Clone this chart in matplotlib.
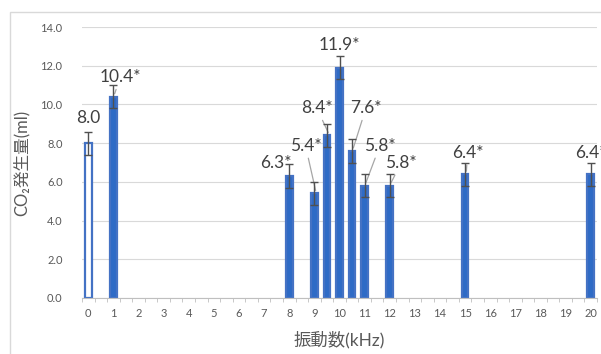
import matplotlib.pyplot as plt
from matplotlib.patches import Rectangle

plt.rcParams['font.family'] = ['Lato', 'Noto Sans CJK JP', 'DejaVu Sans']

# data
freq = [0, 1, 8, 9, 9.5, 10, 10.5, 11, 12, 15, 20]
co2 = [8.0, 10.4, 6.3, 5.4, 8.4, 11.9, 7.6, 5.8, 5.8, 6.4, 6.4]
err = [0.6, 0.6, 0.6, 0.6, 0.6, 0.6, 0.6, 0.6, 0.6, 0.6, 0.6]
labels = ['8.0', '10.4*', '6.3*', '5.4*', '8.4*', '11.9*', '7.6*', '5.8*', '5.8*', '6.4*', '6.4*']

# where the data labels sit (moved by hand like in the original)
lab_x = [0, 1.27, 7.45, 8.65, 9.1, 10.0, 11.05, 11.6, 12.45, 15.1, 20.0]
lab_y = [9.3, 11.4, 6.97, 7.85, 9.8, 13.07, 9.8, 7.85, 6.97, 7.5, 7.5]
leader = [False, True, False, True, True, False, True, True, True, True, False]

fig = plt.figure(figsize=(6.01, 3.54), dpi=100)
ax = fig.add_axes([0.1364, 0.1582, 0.857, 0.7655])

# outer chart frame
fig.patches.append(Rectangle((10 / 601, -0.1), 1.2, 1 - 12 / 354 + 0.1, transform=fig.transFigure,
                             fill=False, edgecolor='#D9D9D9', lw=1))

face = ['white'] + ['#2E6BC6'] * (len(freq) - 1)
ax.bar(freq, co2, width=0.26, color=face, edgecolor='#4472C4', linewidth=1.6, zorder=3)
ax.errorbar(freq, co2, yerr=err, fmt='none', ecolor='#505050', elinewidth=1, capsize=3,
            capthick=1, zorder=4)

for i in range(len(freq)):
    if leader[i]:
        ax.annotate(labels[i], xy=(freq[i] + 0.05, co2[i] + 0.15), xytext=(lab_x[i], lab_y[i]),
                    ha='center', va='center', fontsize=12.5, color='#404040',
                    arrowprops=dict(arrowstyle='-', color='#A6A6A6', lw=0.9, shrinkA=1, shrinkB=0),
                    annotation_clip=False)
    else:
        ax.text(lab_x[i], lab_y[i], labels[i], ha='center', va='center', fontsize=12.5,
                color='#404040')

ax.set_xlim(-0.25, 20.25)
ax.set_ylim(0, 14)
ax.set_yticks(range(0, 15, 2))
ax.set_yticklabels(['%.1f' % v for v in range(0, 15, 2)])
ax.set_xticks(range(0, 21))
ax.set_xticks([k * 0.5 - 0.25 for k in range(42)], minor=True)
ax.tick_params(axis='x', which='major', length=0, pad=7, labelsize=8, labelcolor='#595959')
ax.tick_params(axis='x', which='minor', length=3, color='#BFBFBF', direction='out')
ax.tick_params(axis='y', length=0, pad=14, labelsize=8, labelcolor='#595959')

ax.grid(axis='y', color='#D9D9D9', lw=0.8, zorder=0)
ax.set_axisbelow(True)
for s in ['top', 'right', 'left']:
    ax.spines[s].set_visible(False)
ax.spines['bottom'].set_color('#BFBFBF')
ax.spines['bottom'].set_zorder(5)

ax.set_ylabel('CO₂発生量(ml)', fontsize=12, color='#595959', labelpad=8)
ax.set_xlabel('振動数(kHz)', fontsize=12.5, color='#595959', labelpad=9)

fig.savefig('out.png', dpi=100)
